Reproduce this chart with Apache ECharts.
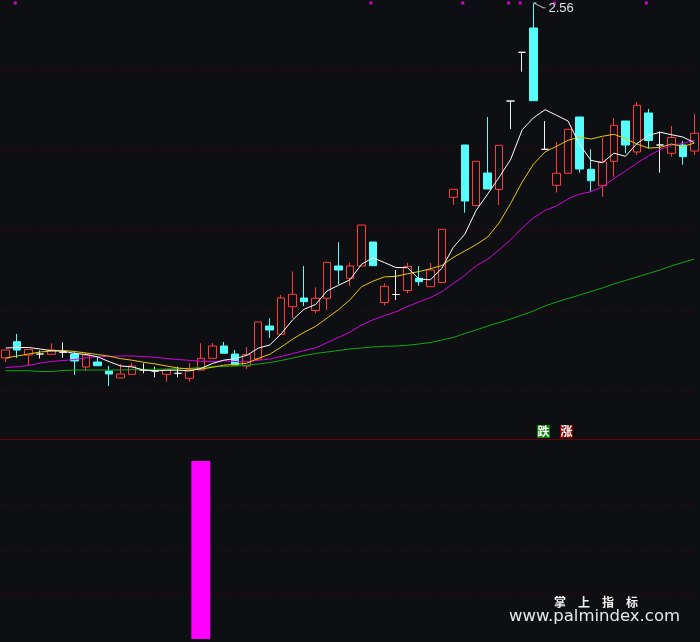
<!DOCTYPE html>
<html><head><meta charset="utf-8">
<script src="https://cdn.jsdelivr.net/npm/echarts@6/dist/echarts.min.js"></script>
<style>html,body{margin:0;padding:0;background:#0e0f13;}#c{width:700px;height:642px;}</style>
</head><body><div id="c"></div>
<script>
const categories = ['01','02','03','04','05','06','07','08','09','10','11','12','13','14','15','16','17','18','19','20',
'21','22','23','24','25','26','27','28','29','30','31','32','33','34','35','36','37','38','39','40',
'41','42','43','44','45','46','47','48','49','50','51','52','53','54','55','56','57','58','59','60','61'];

// [open, close, low, high]
const candles = [
[1.6817,1.7015,1.6718,1.7015],[1.7221,1.7015,1.6817,1.7412],[1.6891,1.7028,1.6644,1.7040],[1.6916,1.6916,1.6805,1.7003],
[1.6909,1.7015,1.6909,1.7181],[1.6958,1.6958,1.6825,1.7206],[1.6916,1.6743,1.6396,1.6990],[1.6594,1.6891,1.6495,1.6941],
[1.6718,1.6626,1.6619,1.6842],[1.6495,1.6421,1.6124,1.6619],[1.6322,1.6421,1.6322,1.6668],[1.6413,1.6619,1.6413,1.6701],
[1.6520,1.6520,1.6438,1.6686],[1.6495,1.6495,1.6339,1.6602],[1.6413,1.6520,1.6230,1.6520],[1.6438,1.6438,1.6339,1.6602],
[1.6314,1.6520,1.6230,1.6686],[1.6520,1.6810,1.6520,1.7181],[1.6810,1.7114,1.6810,1.7189],[1.7114,1.6934,1.6934,1.7213],
[1.6916,1.6644,1.6644,1.7015],[1.6619,1.6904,1.6545,1.7090],[1.6792,1.7709,1.6768,1.7709],[1.7610,1.7511,1.7312,1.7800],
[1.7404,1.8303,1.7404,1.8377],[1.8088,1.8395,1.7808,1.8960],[1.8303,1.8212,1.8105,1.9096],[1.7994,1.8296,1.7924,1.8568],
[1.8296,1.9187,1.8006,1.9187],[1.9096,1.8997,1.8642,1.9683],[1.8791,1.9096,1.8600,1.9177],[1.9096,2.0111,1.9096,2.0111],
[1.9690,1.9103,1.9103,1.9690],[1.8192,1.8593,1.8117,1.8667],[1.8390,1.8390,1.8254,1.8997],[1.8489,1.9088,1.8420,1.9177],
[1.8791,1.8707,1.8608,1.9096],[1.8583,1.8997,1.8583,1.9170],[1.8687,2.0005,1.8687,2.0005],[2.0797,2.0995,2.0607,2.0995],
[2.2093,2.0706,2.0416,2.2093],[2.0594,2.1689,2.0594,2.1689],[2.1399,2.1003,2.1003,2.2786],[2.0991,2.2085,2.0607,2.2085],
[2.3182,2.3182,2.2489,2.3182],[2.4389,2.4389,2.3908,2.4389],[2.4991,2.3190,2.3190,2.5600],[2.1986,2.1986,2.1986,2.2687],
[2.1095,2.1392,2.0916,2.2167],[2.1392,2.2482,2.1392,2.2482],[2.2786,2.1498,2.1407,2.2786],[2.1491,2.1208,2.0936,2.1986],
[2.1085,2.1679,2.0812,2.2273],[2.1689,2.2581,2.1300,2.2761],[2.2687,2.2093,2.1887,2.2687],[2.1919,2.3076,2.1845,2.3158],
[2.2885,2.2204,2.2006,2.2984],[2.2093,2.2093,2.1407,2.2427],[2.1887,2.2278,2.1803,2.2563],[2.2093,2.1803,2.1605,2.2192],
[2.1944,2.2382,2.1845,2.2860]
];

const ma5 = [1.7065,1.7077,1.7077,1.7040,1.6998,1.6986,1.6931,1.6904,1.6847,1.6728,1.6621,1.6597,1.6522,1.6495,1.6515,1.6517,
1.6498,1.6557,1.6681,1.6763,1.6805,1.6882,1.7060,1.7139,1.7414,1.7763,1.8026,1.8142,1.8479,1.8618,1.8756,1.9138,1.9299,
1.9180,1.9059,1.9056,1.8776,1.8754,1.9036,1.9559,1.9881,2.0478,2.0879,2.1295,2.1734,2.2469,2.2769,2.2967,2.2828,2.2687,
2.2110,2.1714,2.1652,2.1890,2.1813,2.2127,2.2326,2.2410,2.2348,2.2291,2.2152];

const ma10 = [1.6817,1.6867,1.6916,1.6966,1.6990,1.7003,1.6978,1.6941,1.6904,1.6862,1.6802,1.6763,1.6713,1.6671,1.6621,1.6569,
1.6547,1.6540,1.6587,1.6639,1.6661,1.6688,1.6807,1.6909,1.7087,1.7283,1.7454,1.7600,1.7808,1.8016,1.8259,1.8581,1.8719,
1.8828,1.8838,1.8905,1.8957,1.9026,1.9108,1.9309,1.9467,1.9626,1.9816,2.0166,2.0646,2.1174,2.1622,2.1922,2.2060,2.2209,
2.2288,2.2241,2.2308,2.2358,2.2249,2.2117,2.2018,2.2031,2.2117,2.2051,2.2140];

const ma20 = [1.6582,1.6602,1.6631,1.6693,1.6730,1.6755,1.6780,1.6822,1.6849,1.6859,1.6867,1.6867,1.6854,1.6834,1.6805,1.6780,
1.6760,1.6735,1.6730,1.6750,1.6730,1.6725,1.6760,1.6790,1.6854,1.6926,1.7000,1.7070,1.7196,1.7327,1.7458,1.7634,1.7763,
1.7867,1.7961,1.8093,1.8204,1.8313,1.8457,1.8662,1.8863,1.9103,1.9267,1.9497,1.9742,2.0039,2.0290,2.0473,2.0584,2.0758,
2.0877,2.0934,2.1062,2.1260,2.1446,2.1644,2.1820,2.1976,2.2088,2.2130,2.2214];

const ma60 = [1.6503,1.6503,1.6503,1.6483,1.6483,1.6508,1.6520,1.6520,1.6520,1.6520,1.6520,1.6527,1.6532,1.6537,1.6545,1.6552,
1.6562,1.6582,1.6602,1.6612,1.6619,1.6636,1.6668,1.6706,1.6755,1.6817,1.6879,1.6929,1.6966,1.7003,1.7040,1.7065,1.7090,
1.7107,1.7114,1.7132,1.7164,1.7201,1.7263,1.7325,1.7424,1.7511,1.7610,1.7696,1.7783,1.7882,1.7981,1.8105,1.8204,1.8291,
1.8377,1.8464,1.8551,1.8650,1.8737,1.8823,1.8910,1.8997,1.9096,1.9182,1.9269];

const signalDays = ['02','33','41','45','46','49','57'];
const signalLevel = 2.561;

const lowerBars = [0,0,0,0,0,0,0,0,0,0,0,0,0,0,0,0,0,4,0,0,0,0,0,0,0,0,0,0,0,0,0,0,0,0,0,0,0,0,0,0,
0,0,0,0,0,0,0,0,0,0,0,0,0,0,0,0,0,0,0,0,0];

const BG = '#0e0f13';
const GRID_RED = '#480202';
const NONE = 'rgba(0,0,0,0)';

const chart = echarts.init(document.getElementById('c'), null, {renderer: 'canvas'});
chart.setOption({
  backgroundColor: BG,
  animation: false,
  grid: [
    {left: 0, right: 0, top: 0, height: 391},
    {left: 0, right: 0, top: 439, height: 200}
  ],
  xAxis: [
    {type: 'category', data: categories, gridIndex: 0, boundaryGap: true,
     axisLine: {show: false}, axisTick: {show: false}, axisLabel: {show: false}, splitLine: {show: false}},
    {type: 'category', data: categories, gridIndex: 1, boundaryGap: true, position: 'top',
     axisLine: {show: true, onZero: false, lineStyle: {color: '#700000', width: 1}}, axisTick: {show: false}, axisLabel: {show: false}, splitLine: {show: false}}
  ],
  yAxis: [
    {type: 'value', gridIndex: 0, min: 1.6, max: 2.5684, interval: 0.2,
     axisLine: {show: false}, axisTick: {show: false}, axisLabel: {show: false},
     splitLine: {show: true, showMaxLine: false, lineStyle: {color: GRID_RED, type: [2, 3], width: 1}}},
    {type: 'value', gridIndex: 1, min: 0, max: 4.4944, interval: 1,
     axisLine: {show: false}, axisTick: {show: false}, axisLabel: {show: false},
     splitLine: {show: true, showMinLine: false, showMaxLine: false,
       lineStyle: {color: [GRID_RED, GRID_RED, GRID_RED, NONE, NONE], type: [2, 3], width: 1}}}
  ],
  series: [
    {
      type: 'candlestick', xAxisIndex: 0, yAxisIndex: 0, data: candles, barWidth: 8,
      itemStyle: {color: BG, color0: '#54FCFC', borderColor: '#FF3C3C', borderColor0: '#54FCFC', borderColorDoji: '#F0F0F0', borderWidth: 1},
      markPoint: {
        symbol: 'path://M0 0 L3 0 M0 0 L10 4 L12 4',
        symbolSize: [12, 5], symbolOffset: [6, 2],
        itemStyle: {color: 'none', borderColor: '#e0e0e0', borderWidth: 1},
        label: {show: true, position: 'right', distance: -1, offset: [0, 3], color: '#e0e0e0', fontFamily: 'Liberation Sans', fontSize: 13,
                formatter: p => Number(p.value).toFixed(2)},
        data: [{type: 'max', valueDim: 'highest'}]
      }
    },
    {type: 'line', name: 'MA60', data: ma60, symbol: 'none', lineStyle: {color: '#10A810', width: 1}, z: 3},
    {type: 'line', name: 'MA20', data: ma20, symbol: 'none', lineStyle: {color: '#D800E0', width: 1}, z: 3},
    {type: 'line', name: 'MA10', data: ma10, symbol: 'none', lineStyle: {color: '#E8C800', width: 1}, z: 3},
    {type: 'line', name: 'MA5', data: ma5, symbol: 'none', lineStyle: {color: '#FFFFFF', width: 1}, z: 3},
    {type: 'scatter', data: signalDays.map(d => [d, signalLevel]), symbol: 'rect', symbolSize: 3, symbolOffset: [-2, 0],
     itemStyle: {color: '#FF00FF'}, z: 4},
    {type: 'bar', xAxisIndex: 1, yAxisIndex: 1, data: lowerBars, barWidth: 19, itemStyle: {color: '#FF00FF'}}
  ],
  graphic: [
    {type: 'text', left: 537, top: 425, style: {text: '跌', fill: '#ffffff', backgroundColor: '#008000', font: 'bold 12px "Noto Sans CJK SC"', lineHeight: 13, padding: [0, 0.5, 0, 0.5]}},
    {type: 'text', left: 560, top: 425, style: {text: '涨', fill: '#ffffff', backgroundColor: '#800000', font: 'bold 12px "Noto Sans CJK SC"', lineHeight: 13, padding: [0, 0.5, 0, 0.5]}},
    {type: 'text', left: 554, top: 596, style: {text: '掌　上　指　标', fill: '#f0f0f0', font: 'bold 12px "Noto Sans CJK SC"'}},
    {type: 'text', left: 509, top: 608, style: {text: 'www.palmindex.com', fill: '#e8e8e8', font: '16.5px "DejaVu Sans"'}}
  ]
});
</script></body></html>
